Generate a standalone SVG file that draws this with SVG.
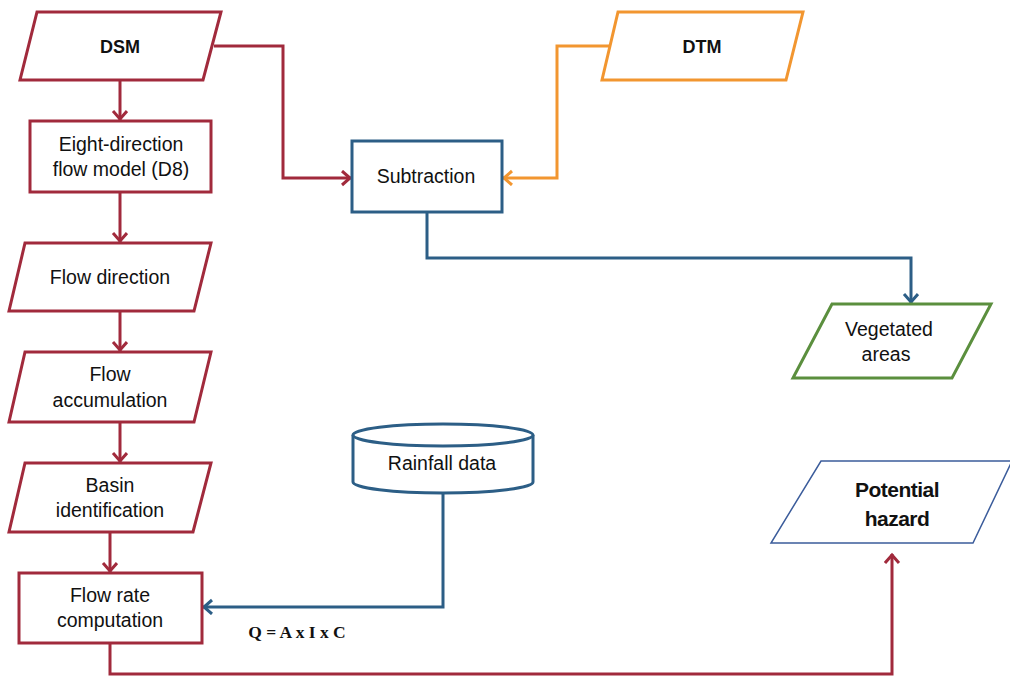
<svg xmlns="http://www.w3.org/2000/svg" width="1010" height="676" viewBox="0 0 1010 676">
<style>
  text { font-family: "Liberation Sans", Arial, sans-serif; fill: #111; text-anchor: middle; }
  .t { font-size: 19.5px; }
  .b { font-size: 18px; font-weight: bold; }
  .hz { font-size: 21px; font-weight: bold; letter-spacing: -0.5px; }
  .q { font-family: "Liberation Serif", "Times New Roman", serif; font-size: 17.5px; font-weight: bold; }
  .red { fill: #fff; stroke: #a12a3c; stroke-width: 3; stroke-linejoin: miter; }
  .blue { fill: #fff; stroke: #2c5e86; stroke-width: 3; }
  .orange { fill: #fff; stroke: #f29630; stroke-width: 3; }
  .green { fill: #fff; stroke: #5b8f3e; stroke-width: 3; }
  .hzs { fill: #fff; stroke: #3b5c9b; stroke-width: 1.5; }
  .c { fill: none; stroke-width: 3; stroke-linejoin: miter; }
  .cr { stroke: #a12a3c; marker-end: url(#ar); }
  .cb { stroke: #2c5e86; marker-end: url(#ab); }
  .co { stroke: #f29630; marker-end: url(#ao); }
</style>
<defs>
  <marker id="ar" markerUnits="userSpaceOnUse" markerWidth="16" markerHeight="18" refX="11" refY="8" orient="auto">
    <path d="M2,1 L10,8 L2,15" fill="none" stroke="#a12a3c" stroke-width="3"/>
  </marker>
  <marker id="ab" markerUnits="userSpaceOnUse" markerWidth="16" markerHeight="18" refX="11" refY="8" orient="auto">
    <path d="M2,1 L10,8 L2,15" fill="none" stroke="#2c5e86" stroke-width="3"/>
  </marker>
  <marker id="ao" markerUnits="userSpaceOnUse" markerWidth="16" markerHeight="18" refX="11" refY="8" orient="auto">
    <path d="M2,1 L10,8 L2,15" fill="none" stroke="#f29630" stroke-width="3"/>
  </marker>
</defs>

<g id="connectors">
  <path class="c cr" d="M120,80 V120"/>
  <path class="c cr" d="M120,192 V242"/>
  <path class="c cr" d="M120,311 V351"/>
  <path class="c cr" d="M120,422 V462"/>
  <path class="c cr" d="M110,532 V572"/>
  <path class="c cr" d="M214,46 H283 V178 H351"/>
  <path class="c co" d="M609,46 H557 V178 H503"/>
  <path class="c cb" d="M427,212 V258 H911 V303"/>
  <path class="c cb" d="M443,493 V607 H203"/>
  <path class="c cr" d="M110,643 V674 H892 V554"/>
  <text class="q" x="297" y="638">Q = A x I x C</text>
</g>

<g id="dsm">
  <polygon class="red" points="37,12 221,12 203,80 20,80"/>
  <text class="b" x="120" y="53">DSM</text>
</g>
<g id="d8">
  <rect class="red" x="30" y="121" width="181" height="71"/>
  <text class="t" x="121" y="151">Eight-direction</text>
  <text class="t" x="121" y="176">flow model (D8)</text>
</g>
<g id="flowdir">
  <polygon class="red" points="25,243 211,243 194,311 9,311"/>
  <text class="t" x="110" y="284">Flow direction</text>
</g>
<g id="flowacc">
  <polygon class="red" points="25,352 211,352 194,422 9,422"/>
  <text class="t" x="110" y="381">Flow</text>
  <text class="t" x="110" y="407">accumulation</text>
</g>
<g id="basin">
  <polygon class="red" points="25,463 211,463 193,532 9,532"/>
  <text class="t" x="110" y="492">Basin</text>
  <text class="t" x="110" y="517">identification</text>
</g>
<g id="flowrate">
  <rect class="red" x="19" y="573" width="183" height="70"/>
  <text class="t" x="110" y="602">Flow rate</text>
  <text class="t" x="110" y="627">computation</text>
</g>
<g id="subtraction">
  <rect class="blue" x="352" y="141" width="150" height="71"/>
  <text class="t" x="426" y="183">Subtraction</text>
</g>
<g id="dtm">
  <polygon class="orange" points="618,12 803,12 786,80 602,80"/>
  <text class="b" x="702" y="53">DTM</text>
</g>
<g id="vegetated">
  <polygon class="green" points="832,304 991,304 952,378 793,378"/>
  <text class="t" x="889" y="336">Vegetated</text>
  <text class="t" x="886" y="361">areas</text>
</g>
<g id="rainfall">
  <path class="blue" d="M353,435 V482 A90,11 0 0 0 533,482 V435"/>
  <ellipse class="blue" cx="443" cy="435" rx="90" ry="11"/>
  <text class="t" x="442" y="470">Rainfall data</text>
</g>
<g id="hazard">
  <polygon class="hzs" points="821,461 1012,461 973,543 771,543"/>
  <text class="hz" x="897" y="497">Potential</text>
  <text class="hz" x="897" y="526">hazard</text>
</g>
</svg>
